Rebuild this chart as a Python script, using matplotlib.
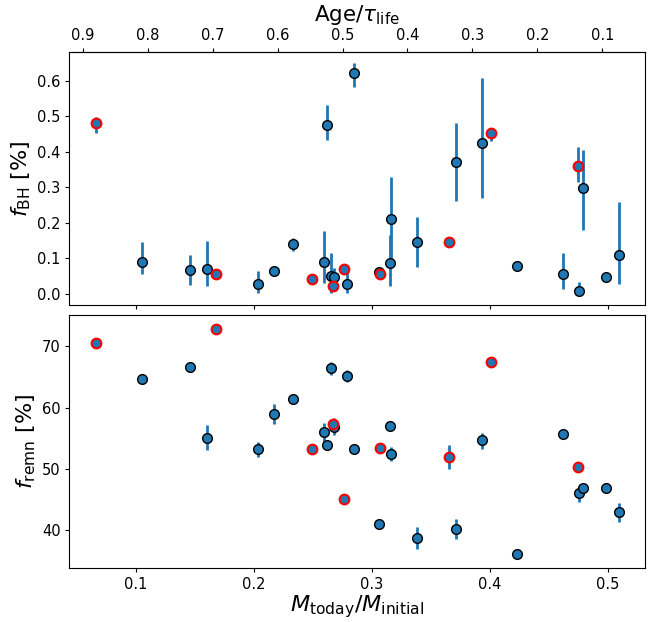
import numpy as np
import matplotlib.pyplot as plt

# mass fraction left today (same clusters in both panels)
m_frac = [0.066, 0.105, 0.146, 0.160, 0.168, 0.203, 0.217, 0.233, 0.259, 0.249,
          0.262, 0.265, 0.268, 0.267, 0.276, 0.279, 0.285, 0.306, 0.307, 0.315,
          0.316, 0.338, 0.365, 0.371, 0.393, 0.401, 0.423, 0.462, 0.4745, 0.475,
          0.479, 0.498, 0.509]

# clusters flagged with a red edge
flagged = [1, 0, 0, 0, 1, 0, 0, 0, 0, 1,
           0, 0, 0, 1, 1, 0, 0, 0, 1, 0,
           0, 0, 1, 0, 0, 1, 0, 0, 1, 0,
           0, 0, 0]

f_bh = [0.481, 0.091, 0.068, 0.069, 0.057, 0.028, 0.064, 0.141, 0.091, 0.043,
        0.477, 0.050, 0.049, 0.021, 0.071, 0.027, 0.622, 0.062, 0.056, 0.087,
        0.211, 0.146, 0.145, 0.372, 0.425, 0.454, 0.080, 0.056, 0.361, 0.009,
        0.299, 0.047, 0.110]
f_bh_lo = [0.027, 0.035, 0.043, 0.048, 0.005, 0.026, 0.005, 0.020, 0.061, 0.004,
           0.043, 0.048, 0.030, 0.004, 0.004, 0.024, 0.040, 0.005, 0.004, 0.065,
           0.120, 0.071, 0.004, 0.109, 0.155, 0.022, 0.006, 0.041, 0.045, 0.009,
           0.119, 0.008, 0.083]
f_bh_hi = [0.018, 0.054, 0.042, 0.081, 0.005, 0.037, 0.005, 0.016, 0.086, 0.004,
           0.055, 0.066, 0.023, 0.004, 0.004, 0.043, 0.028, 0.005, 0.004, 0.079,
           0.119, 0.072, 0.004, 0.109, 0.184, 0.005, 0.006, 0.059, 0.052, 0.024,
           0.107, 0.016, 0.148]

f_remn = [70.65, 64.6, 66.56, 55.0, 72.85, 53.26, 58.99, 61.39, 55.99, 53.2,
          53.9, 66.5, 56.86, 57.24, 44.97, 65.2, 53.3, 40.98, 53.37, 56.97,
          52.39, 38.64, 51.9, 40.11, 54.68, 67.44, 36.12, 55.71, 50.36, 46.0,
          46.82, 46.87, 42.95]
f_remn_lo = [0.3, 0.5, 0.5, 2.0, 0.3, 1.36, 1.7, 0.3, 1.54, 0.3,
             0.8, 1.1, 1.31, 0.3, 0.3, 0.95, 0.3, 0.3, 0.3, 0.3,
             1.2, 1.7, 2.0, 1.63, 1.48, 0.3, 0.3, 0.6, 0.3, 1.4,
             0.3, 0.3, 1.75]
f_remn_hi = [0.3, 0.5, 0.5, 2.2, 0.3, 1.19, 1.58, 0.3, 1.57, 0.3,
             0.8, 1.0, 1.42, 0.3, 0.3, 0.95, 0.3, 0.3, 0.3, 0.3,
             1.1, 1.8, 1.9, 1.64, 1.22, 0.3, 0.3, 0.6, 0.3, 1.1,
             0.3, 0.3, 1.42]

x = np.array(m_frac)
red = np.array(flagged, dtype=bool)

fig, axs = plt.subplots(2, 1, figsize=(6.6, 6.22), dpi=100, sharex=True)
fig.subplots_adjust(left=0.1045, right=0.9768, top=0.9169, bottom=0.0863, hspace=0.037)

panels = [(f_bh, f_bh_lo, f_bh_hi, r'$f_{\rm BH}$ [%]'),
          (f_remn, f_remn_lo, f_remn_hi, r'$f_{\rm remn}$ [%]')]

for ax, (y, lo, hi, lab) in zip(axs, panels):
    y = np.array(y)
    ax.errorbar(x, y, yerr=[lo, hi], fmt='none', ecolor='C0', elinewidth=2)
    ax.plot(x[~red], y[~red], 'o', ms=7, mfc='C0', mec='k', mew=1)
    ax.plot(x[red], y[red], 'o', ms=7, mfc='C0', mec='red', mew=1.5)
    ax.set_ylabel(lab, fontsize=16, labelpad=3)
    ax.tick_params(labelsize=10.5, length=3, pad=3)

axs[0].set_xlim(0.0432, 0.531)
axs[0].set_ylim(-0.032, 0.6825)
axs[0].set_yticks([0.0, 0.1, 0.2, 0.3, 0.4, 0.5, 0.6])
axs[1].set_ylim(33.7, 75.2)
axs[1].set_yticks([40, 50, 60, 70])
axs[1].set_xticks([0.1, 0.2, 0.3, 0.4, 0.5])
axs[1].set_xlabel(r'$M_{\rm today}/M_{\rm initial}$', fontsize=16, labelpad=1)

# age axis on top, assuming linear mass loss
top = axs[0].secondary_xaxis('top', functions=(lambda m: 1 - m / 0.55, lambda a: 0.55 * (1 - a)))
top.set_xticks([0.9, 0.8, 0.7, 0.6, 0.5, 0.4, 0.3, 0.2, 0.1])
top.tick_params(labelsize=10.5, length=3, pad=3)
top.set_xlabel(r'Age/$\tau_{\rm life}$', fontsize=15.5, labelpad=5)

plt.savefig('out.png', dpi=100)
plt.close()
